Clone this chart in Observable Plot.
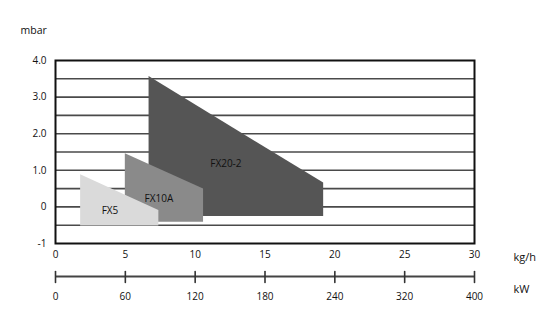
<!DOCTYPE html>
<html>
<head>
<meta charset="utf-8">
<script src="https://cdn.jsdelivr.net/npm/d3@7"></script>
<script src="https://cdn.jsdelivr.net/npm/@observablehq/plot@0.6"></script>
<style>
  html, body { margin: 0; padding: 0; background: #fff; }
</style>
</head>
<body>
<div id="chart"></div>
<script>
// Operating ranges (x in kg/h, pressure in mbar)
const models = ["FX20-2", "FX10A", "FX5"];
const xMin = [6.7, 5.0, 1.8];
const xMax = [19.2, 10.6, 7.4];
const pTopLeft = [3.56, 1.45, 0.88];
const pTopRight = [0.65, 0.49, -0.10];
const pBottom = [-0.26, -0.42, -0.52];
const fills = ["#555555", "#8a8a8a", "#dadada"];
const labelX = [12.2, 7.4, 3.9];
const labelY = [1.18, 0.21, -0.1];

// Axis ticks
const yTicks = [-1, 0, 1, 2, 3, 4];
const yTickLabels = ["-1", "0", "1.0", "2.0", "3.0", "4.0"];
const gridLevels = [-0.5, 0, 0.5, 1, 1.5, 2, 2.5, 3, 3.5];
const kgTicks = [0, 5, 10, 15, 20, 25, 30];
const kwLabels = ["0", "60", "120", "180", "240", "320", "400"];

const shapeMarks = models.map((m, i) =>
  Plot.areaY(
    [
      {x: xMin[i], y1: pBottom[i], y2: pTopLeft[i]},
      {x: xMax[i], y1: pBottom[i], y2: pTopRight[i]}
    ],
    {x: "x", y1: "y1", y2: "y2", fill: fills[i]}
  )
);

const tickShape = {draw(ctx, l) { ctx.moveTo(0, 0); ctx.lineTo(0, -l); }};

const chart = Plot.plot({
  width: 548,
  height: 314,
  marginLeft: 55,
  marginRight: 74,
  marginTop: 60,
  marginBottom: 71,
  style: {fontFamily: "'Open Sans', sans-serif", fontSize: "10px", color: "#111", background: "#fff"},
  x: {domain: [0, 30], ticks: kgTicks, tickSize: 0, tickPadding: 7, label: null},
  y: {domain: [-1, 4], ticks: yTicks, tickSize: 0, tickPadding: 9, label: null,
      tickFormat: d => yTickLabels[yTicks.indexOf(d)]},
  marks: [
    Plot.ruleY(gridLevels, {stroke: "#4a4a4a", strokeWidth: 1.6}),
    ...shapeMarks,
    Plot.frame({stroke: "#111", strokeWidth: 2}),
    Plot.text(models, {x: (d, i) => labelX[i], y: (d, i) => labelY[i], text: d => d, fill: "#111", fontSize: 10}),
    // kW secondary axis
    Plot.ruleY([-1], {x1: 0, x2: 30, dy: 33, stroke: "#444", strokeWidth: 2}),
    Plot.vector(kgTicks, {x: d => d, y: -1, dy: 28, length: 11, rotate: 180, anchor: "start",
      shape: tickShape, stroke: "#333", strokeWidth: 1.6}),
    Plot.text(kgTicks, {x: d => d, y: -1, dy: 53, text: (d, i) => kwLabels[i], fill: "#111"}),
    // unit labels
    Plot.text(["mbar"], {frameAnchor: "top-left", dx: -35, dy: -34, textAnchor: "start", fill: "#111", fontSize: 10.5}),
    Plot.text(["kg/h"], {frameAnchor: "bottom-right", dx: 39, dy: 17, textAnchor: "start", fill: "#111", fontSize: 11}),
    Plot.text(["kW"], {frameAnchor: "bottom-right", dx: 39, dy: 49, textAnchor: "start", fill: "#111", fontSize: 11})
  ]
});
document.getElementById("chart").appendChild(chart);
</script>
</body>
</html>
